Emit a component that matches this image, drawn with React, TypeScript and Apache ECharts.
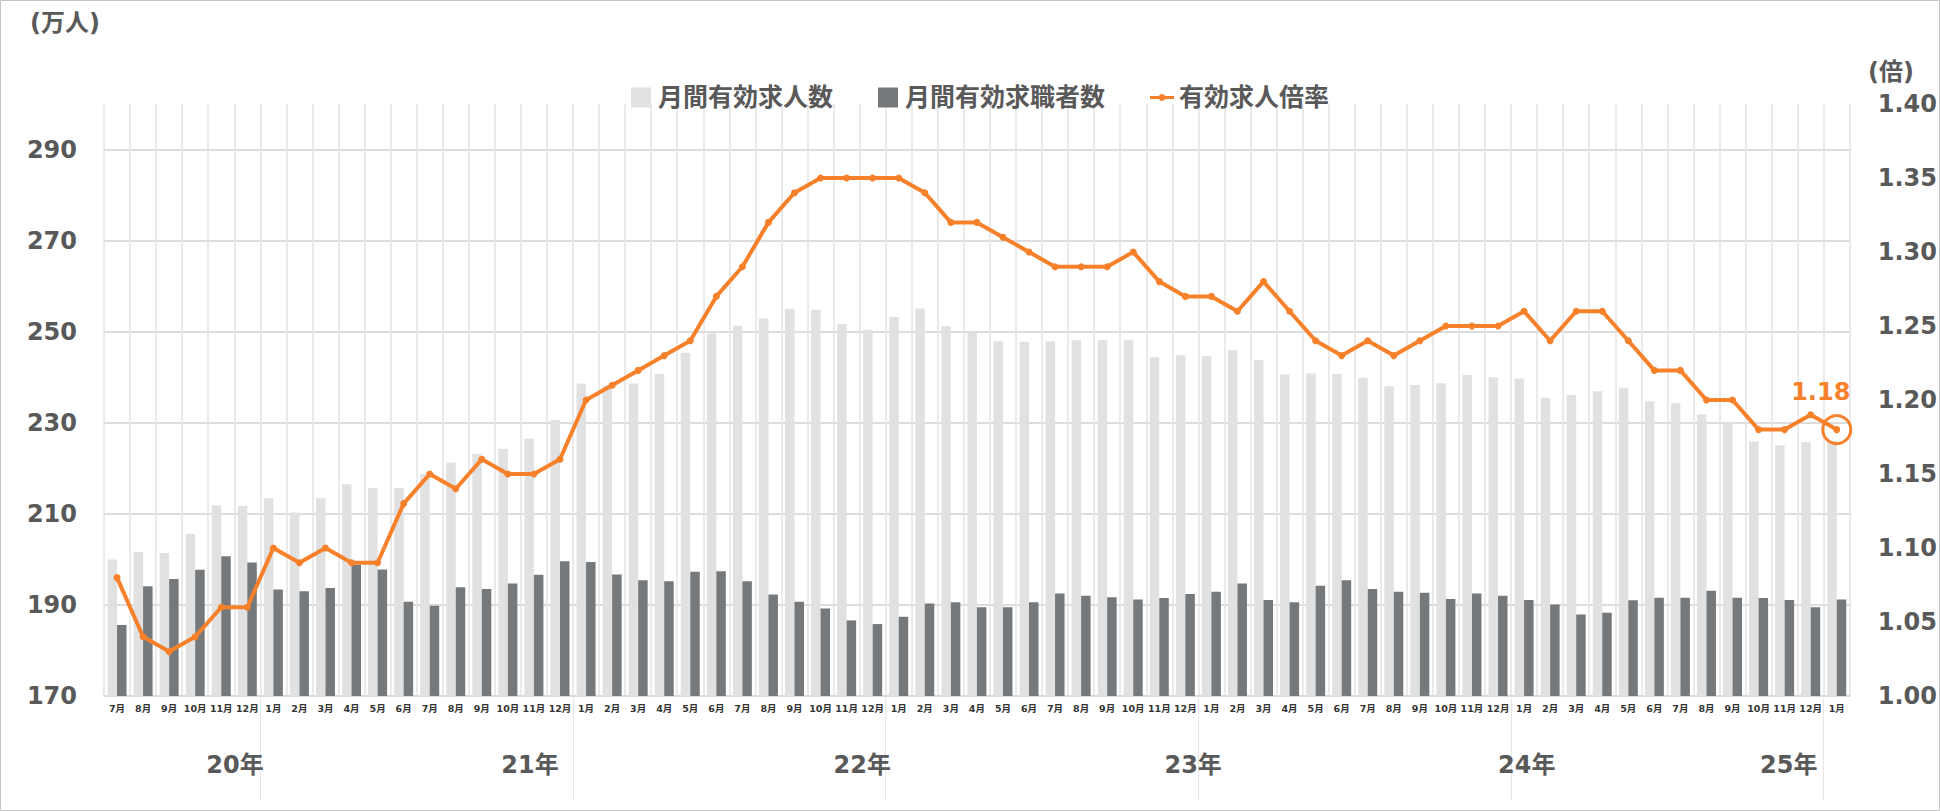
import React, { useEffect, useRef } from 'react';
import * as echarts from 'echarts';

// 2019年7月〜2025年1月
const categories = [
  '2019/7', '2019/8', '2019/9', '2019/10', '2019/11', '2019/12',
  '2020/1', '2020/2', '2020/3', '2020/4', '2020/5', '2020/6', '2020/7', '2020/8', '2020/9', '2020/10', '2020/11', '2020/12',
  '2021/1', '2021/2', '2021/3', '2021/4', '2021/5', '2021/6', '2021/7', '2021/8', '2021/9', '2021/10', '2021/11', '2021/12',
  '2022/1', '2022/2', '2022/3', '2022/4', '2022/5', '2022/6', '2022/7', '2022/8', '2022/9', '2022/10', '2022/11', '2022/12',
  '2023/1', '2023/2', '2023/3', '2023/4', '2023/5', '2023/6', '2023/7', '2023/8', '2023/9', '2023/10', '2023/11', '2023/12',
  '2024/1', '2024/2', '2024/3', '2024/4', '2024/5', '2024/6', '2024/7', '2024/8', '2024/9', '2024/10', '2024/11', '2024/12',
  '2025/1'
];

// 月間有効求人数（万人）
const jobOffers = [
  200.0, 201.6, 201.4, 205.6, 211.9, 211.7, 213.4, 210.3, 213.4, 216.5, 215.7, 215.7, 218.7, 221.3, 223.2,
  224.3, 226.5, 230.6, 238.6, 238.2, 238.6, 240.7, 245.4, 249.6, 251.3, 252.9, 255.0, 254.8, 251.7, 250.4,
  253.2, 255.1, 251.2, 249.7, 247.9, 247.8, 247.9, 248.1, 248.1, 248.1, 244.4, 244.8, 244.6, 245.9, 243.8,
  240.6, 240.8, 240.7, 239.9, 238.0, 238.3, 238.7, 240.5, 240.0, 239.7, 235.5, 236.1, 236.9, 237.7, 234.7,
  234.3, 231.8, 230.1, 225.9, 225.0, 225.7, 226.0
];

// 月間有効求職者数（万人）
const jobSeekers = [
  185.6, 194.1, 195.7, 197.7, 200.7, 199.3, 193.4, 193.0, 193.7, 198.8, 197.8, 190.7, 189.8, 193.9, 193.5,
  194.7, 196.6, 199.6, 199.4, 196.7, 195.4, 195.2, 197.3, 197.4, 195.2, 192.3, 190.7, 189.2, 186.6, 185.8,
  187.4, 190.3, 190.6, 189.5, 189.5, 190.6, 192.5, 192.0, 191.7, 191.2, 191.5, 192.4, 192.9, 194.7, 191.1,
  190.6, 194.2, 195.4, 193.5, 192.9, 192.7, 191.3, 192.5, 192.0, 191.1, 190.1, 187.9, 188.3, 191.0, 191.6,
  191.6, 193.1, 191.6, 191.5, 191.1, 189.5, 191.2
];

// 有効求人倍率（倍）
const ratio = [
  1.08, 1.04, 1.03, 1.04, 1.06, 1.06, 1.10, 1.09, 1.10, 1.09, 1.09, 1.13, 1.15, 1.14, 1.16,
  1.15, 1.15, 1.16, 1.20, 1.21, 1.22, 1.23, 1.24, 1.27, 1.29, 1.32, 1.34, 1.35, 1.35, 1.35,
  1.35, 1.34, 1.32, 1.32, 1.31, 1.30, 1.29, 1.29, 1.29, 1.30, 1.28, 1.27, 1.27, 1.26, 1.28,
  1.26, 1.24, 1.23, 1.24, 1.23, 1.24, 1.25, 1.25, 1.25, 1.26, 1.24, 1.26, 1.26, 1.24, 1.22,
  1.22, 1.20, 1.20, 1.18, 1.18, 1.19, 1.18
];

// 年ラベル（位置はカテゴリ単位）
const yearLabels = ['20年', '21年', '22年', '23年', '24年', '25年'];
const yearLabelAt = [5.03, 16.35, 29.1, 41.8, 54.6, 64.66];
const yearBoundaries = [6, 18, 30, 42, 54, 66];

const FONT = "'DejaVu Sans', 'Noto Sans CJK JP', sans-serif";
const GREY_TEXT = '#595959';
const ORANGE = '#F7812B';
const LIGHT_BAR = '#E1E1E1';
const DARK_BAR = '#76797C';

const SQUARE_ICON = 'path://M0,0H20V20H0Z';
const LINE_ICON = 'path://M0,8.5H24V11.5H0Z M12,6.5A3.5,3.5 0 1 1 11.99,6.5Z';

const App: React.FC = () => {
  const chartRef = useRef<HTMLDivElement>(null);

  useEffect(() => {
    if (!chartRef.current) return;
    const chart = echarts.init(chartRef.current, undefined, { renderer: 'svg' });
    const last = ratio.length - 1;

    const option: any = {
      animation: false,
      backgroundColor: '#fff',
      textStyle: { fontFamily: FONT },
      graphic: [
        {
          type: 'rect',
          shape: { x: 0.5, y: 0.5, width: 1939, height: 810 },
          style: { fill: 'none', stroke: '#c4c4c4', lineWidth: 1 },
          silent: true
        },
        {
          type: 'text',
          x: 30,
          y: 23,
          style: { text: '(万人)', fill: GREY_TEXT, font: `bold 24px ${FONT}`, verticalAlign: 'middle' }
        },
        {
          type: 'text',
          x: 1868,
          y: 72,
          style: { text: '(倍)', fill: GREY_TEXT, font: `bold 24px ${FONT}`, verticalAlign: 'middle' }
        }
      ],
      legend: {
        left: 626,
        top: 80,
        itemWidth: 24,
        itemHeight: 20,
        itemGap: 45,
        symbolKeepAspect: true,
        textStyle: { fontSize: 25, fontWeight: 'bold', color: GREY_TEXT, fontFamily: FONT },
        data: [
          { name: '月間有効求人数', icon: SQUARE_ICON },
          { name: '月間有効求職者数', icon: SQUARE_ICON },
          { name: '有効求人倍率', icon: LINE_ICON }
        ]
      },
      grid: { left: 104, right: 90, top: 104, bottom: 115, containLabel: false },
      xAxis: [
        {
          type: 'category',
          data: categories,
          boundaryGap: true,
          axisLine: { show: true, lineStyle: { color: '#d9d9d9', width: 1.5 } },
          axisTick: { show: false },
          splitLine: { show: true, lineStyle: { color: '#e3e3e3', width: 1.5 } },
          axisLabel: {
            interval: 0,
            margin: 8,
            fontSize: 9.5,
            fontWeight: 'bold',
            color: '#333',
            fontFamily: FONT,
            formatter: (v: string) => v.split('/')[1] + '月'
          }
        },
        {
          type: 'value',
          position: 'bottom',
          min: 0,
          max: categories.length,
          axisLine: { show: false },
          splitLine: { show: false },
          axisTick: {
            show: true,
            inside: false,
            length: 105,
            customValues: yearBoundaries,
            lineStyle: { color: '#e6e6e6', width: 1 }
          },
          axisLabel: {
            show: true,
            customValues: yearLabelAt,
            margin: 57,
            fontSize: 24,
            fontWeight: 'bold',
            color: GREY_TEXT,
            fontFamily: FONT,
            formatter: (v: number) => {
              const i = yearLabelAt.findIndex((p) => Math.abs(p - v) < 1e-6);
              return i >= 0 ? yearLabels[i] : '';
            }
          }
        }
      ],
      yAxis: [
        {
          type: 'value',
          min: 170,
          max: 300,
          interval: 20,
          axisLine: { show: false },
          axisTick: { show: false },
          splitLine: { show: true, showMaxLine: false, lineStyle: { color: '#d2d2d2', width: 1.5 } },
          axisLabel: {
            showMaxLabel: false,
            margin: 27,
            fontSize: 24,
            fontWeight: 'bold',
            color: GREY_TEXT,
            fontFamily: FONT
          }
        },
        {
          type: 'value',
          min: 1.0,
          max: 1.4,
          interval: 0.05,
          position: 'right',
          axisLine: { show: false },
          axisTick: { show: false },
          splitLine: { show: false },
          axisLabel: {
            margin: 28,
            fontSize: 24,
            fontWeight: 'bold',
            color: GREY_TEXT,
            fontFamily: FONT,
            formatter: (v: number) => v.toFixed(2)
          }
        }
      ],
      series: [
        {
          name: '月間有効求人数',
          type: 'bar',
          data: jobOffers,
          barWidth: 9.5,
          barGap: '0%',
          itemStyle: { color: LIGHT_BAR },
          z: 2
        },
        {
          name: '月間有効求職者数',
          type: 'bar',
          data: jobSeekers,
          barWidth: 9.5,
          barGap: '0%',
          itemStyle: { color: DARK_BAR },
          z: 2
        },
        {
          name: '有効求人倍率',
          type: 'line',
          yAxisIndex: 1,
          data: ratio,
          symbol: 'circle',
          symbolSize: 7,
          lineStyle: { color: ORANGE, width: 4 },
          itemStyle: { color: ORANGE },
          z: 5
        },
        {
          name: '最新値',
          type: 'scatter',
          yAxisIndex: 1,
          data: [[last, ratio[last]]],
          symbol: 'circle',
          symbolSize: 28,
          itemStyle: { color: 'rgba(0,0,0,0)', borderColor: ORANGE, borderWidth: 3, opacity: 1 },
          label: {
            show: true,
            position: 'top',
            distance: 10,
            offset: [-16, 0],
            color: ORANGE,
            opacity: 1,
            fontSize: 24,
            fontWeight: 'bold',
            fontFamily: FONT,
            formatter: (p: any) => Number(p.value[1]).toFixed(2)
          },
          z: 6
        }
      ]
    };

    chart.setOption(option);

    return () => {
      chart.dispose();
    };
  }, []);

  return (
    <div
      ref={chartRef}
      style={{ position: 'absolute', left: 0, top: 0, width: 1940, height: 811 }}
    />
  );
};

export default App;
